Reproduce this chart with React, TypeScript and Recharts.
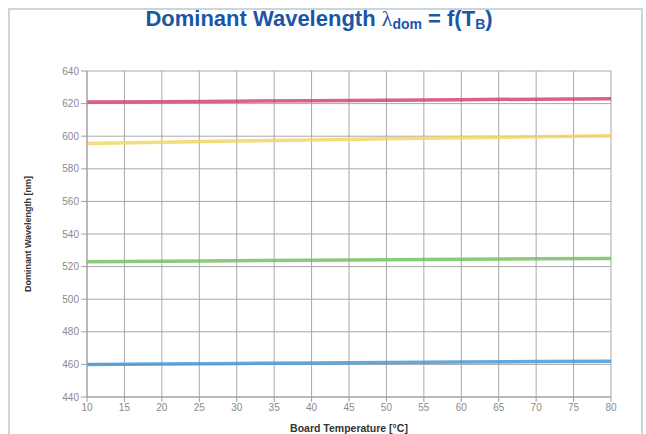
import { LineChart, Line, XAxis, YAxis, CartesianGrid, Label } from "recharts";

const temperatures = [10, 20, 30, 40, 50, 60, 70, 80];
const red = [621, 621.2, 621.5, 621.8, 622.1, 622.4, 622.7, 623];
const yellow = [595.5, 596.3, 597, 597.7, 598.4, 599, 599.6, 600.3];
const green = [523, 523.3, 523.6, 523.9, 524.2, 524.5, 524.8, 525];
const blue = [460, 460.3, 460.6, 460.9, 461.2, 461.5, 461.8, 462];

const xTicks = [10, 15, 20, 25, 30, 35, 40, 45, 50, 55, 60, 65, 70, 75, 80];
const yTicks = [440, 460, 480, 500, 520, 540, 560, 580, 600, 620, 640];

const data = temperatures.map((t, i) => ({
    t,
    red: red[i],
    yellow: yellow[i],
    green: green[i],
    blue: blue[i],
}));

const tickStyle = { fontSize: 10, fill: "#8a8a8a", fontFamily: "Liberation Sans, Arial, sans-serif" };

export default function App() {
    return (
        <div style={{ position: "absolute", left: 0, top: 0, width: 646, height: 434, background: "#fff", overflow: "hidden" }}>
            <div style={{ position: "absolute", left: 8, top: 8, width: 631, height: 440, border: "2px solid #c9d5df" }} />
            <div style={{
                position: "absolute", left: 0, top: 6, width: 638, textAlign: "center",
                fontFamily: "'Liberation Sans Narrow', 'Liberation Sans', Arial, sans-serif",
                fontWeight: "bold", fontSize: 22, color: "#1a56a6", whiteSpace: "nowrap",
            }}>
                Dominant Wavelength <span style={{ fontWeight: "normal", fontFamily: "serif" }}>λ</span><sub style={{ fontSize: 14, verticalAlign: -3 }}>dom</sub> = f(T<sub style={{ fontSize: 14, verticalAlign: -3 }}>B</sub>)
            </div>
            <div style={{ position: "absolute", left: 0, top: 0 }}>
                <LineChart width={646} height={434} data={data} margin={{ top: 71, right: 35, bottom: 0, left: 0 }}>
                    <CartesianGrid stroke="#a8a8a8" />
                    <XAxis dataKey="t" type="number" domain={[10, 80]} ticks={xTicks} height={37}
                        stroke="#a0a0a0" tick={tickStyle} tickSize={5} interval={0}>
                        <Label value="Board Temperature [°C]" position="insideBottom" offset={2}
                            style={{ fontSize: 10.5, fontWeight: "bold", fill: "#333", fontFamily: "Liberation Sans, Arial, sans-serif" }} />
                    </XAxis>
                    <YAxis type="number" domain={[440, 640]} ticks={yTicks} width={87}
                        stroke="#a0a0a0" tick={tickStyle} tickSize={6} interval={0}>
                        <Label value="Dominant Wavelength [nm]" angle={-90} position="insideLeft" offset={28}
                            style={{ fontSize: 9, fontWeight: "bold", fill: "#333", textAnchor: "middle", fontFamily: "Liberation Sans, Arial, sans-serif" }} />
                    </YAxis>
                    <Line dataKey="red" stroke="#d23a63" strokeWidth={3.5} strokeOpacity={0.8} dot={false} isAnimationActive={false} />
                    <Line dataKey="yellow" stroke="#f3d35c" strokeWidth={3.5} strokeOpacity={0.8} dot={false} isAnimationActive={false} />
                    <Line dataKey="green" stroke="#6dbd5a" strokeWidth={3.5} strokeOpacity={0.8} dot={false} isAnimationActive={false} />
                    <Line dataKey="blue" stroke="#3f93d3" strokeWidth={3.5} strokeOpacity={0.8} dot={false} isAnimationActive={false} />
                </LineChart>
            </div>
        </div>
    );
}
